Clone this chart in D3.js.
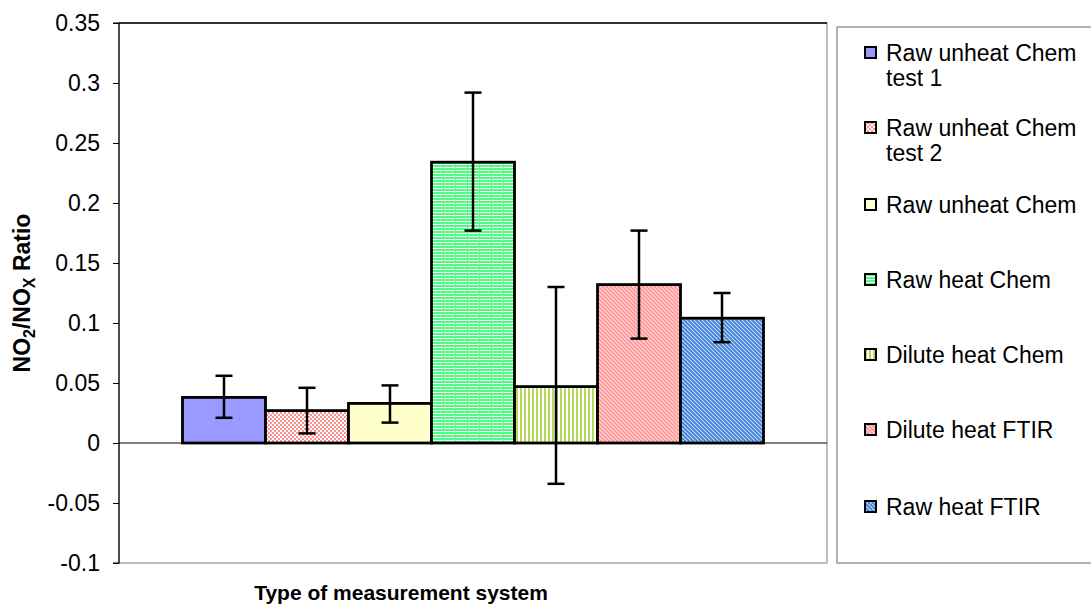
<!DOCTYPE html>
<html>
<head>
<meta charset="utf-8">
<script src="https://cdn.jsdelivr.net/npm/d3@7"></script>
<style>
  html, body { margin: 0; padding: 0; background: #fff; }
  svg { display: block; font-family: Arial, "Liberation Sans", sans-serif; }
</style>
</head>
<body>
<svg id="chart" width="1091" height="610"></svg>
<script>
// ---- data ----
const seriesNames = ["Raw unheat Chem test 1", "Raw unheat Chem test 2", "Raw unheat Chem",
  "Raw heat Chem", "Dilute heat Chem", "Dilute heat FTIR", "Raw heat FTIR"];
const legendLines = [["Raw unheat Chem", "test 1"], ["Raw unheat Chem", "test 2"], ["Raw unheat Chem"],
  ["Raw heat Chem"], ["Dilute heat Chem"], ["Dilute heat FTIR"], ["Raw heat FTIR"]];
const values = [0.038, 0.027, 0.033, 0.234, 0.047, 0.132, 0.104];
const errLow = [0.021, 0.008, 0.017, 0.177, -0.034, 0.087, 0.084];
const errHigh = [0.056, 0.046, 0.048, 0.292, 0.130, 0.177, 0.125];
const yTicks = [-0.1, -0.05, 0, 0.05, 0.1, 0.15, 0.2, 0.25, 0.3, 0.35];
const fillIds = ["f0", "f1", "f2", "f3", "f4", "f5", "f6"];

const svg = d3.select("#chart");
const defs = svg.append("defs");

// patterns
function pat(id, w, h) {
  return defs.append("pattern").attr("id", id).attr("patternUnits", "userSpaceOnUse")
    .attr("width", w).attr("height", h);
}
pat("f0", 4, 4).append("rect").attr("width", 4).attr("height", 4).attr("fill", "#9999FF");
{
  const p = pat("f1", 4, 4);
  p.append("rect").attr("width", 4).attr("height", 4).attr("fill", "#fff");
  p.append("rect").attr("width", 2).attr("height", 2).attr("fill", "#FF9090");
  p.append("rect").attr("x", 2).attr("y", 2).attr("width", 2).attr("height", 2).attr("fill", "#FF9090");
}
pat("f2", 4, 4).append("rect").attr("width", 4).attr("height", 4).attr("fill", "#FFFFCC");
{
  const p = pat("f3", 12, 3);
  p.append("rect").attr("width", 12).attr("height", 3).attr("fill", "#fff");
  p.append("rect").attr("width", 12).attr("height", 2).attr("fill", "#4DFF80");
  p.append("rect").attr("x", 11).attr("width", 1).attr("height", 3).attr("fill", "#7be89a");
}
{
  const p = pat("f4", 4, 4);
  p.append("rect").attr("width", 4).attr("height", 4).attr("fill", "#fff");
  p.append("rect").attr("width", 2).attr("height", 4).attr("fill", "#B5D95A");
}
{
  const p = pat("f5", 4, 4);
  p.append("rect").attr("width", 4).attr("height", 4).attr("fill", "#FFD6D6");
  p.append("path").attr("d", "M-1,-1 L5,5 M-1,3 L1,5 M3,-1 L5,1").attr("stroke", "#FF8C8C").attr("stroke-width", 1.5);
}
{
  const p = pat("f6", 4, 4);
  p.append("rect").attr("width", 4).attr("height", 4).attr("fill", "#CFE0F8");
  p.append("path").attr("d", "M-1,-1 L5,5 M-1,3 L1,5 M3,-1 L5,1").attr("stroke", "#3C7FD8").attr("stroke-width", 1.8);
}

// layout
const plot = { left: 119, right: 827, top: 23, bottom: 563 };
const y = d3.scaleLinear().domain([-0.1, 0.35]).range([plot.bottom, plot.top]);
const x = d3.scaleBand().domain(seriesNames).range([plot.left, plot.right]).paddingInner(0).paddingOuter(0.765);

// plot border
svg.append("rect").attr("x", plot.left).attr("y", plot.top)
  .attr("width", plot.right - plot.left).attr("height", plot.bottom - plot.top)
  .attr("fill", "none").attr("stroke", "#808080").attr("stroke-width", 1);
svg.append("line").attr("x1", plot.left).attr("x2", plot.right).attr("y1", plot.top).attr("y2", plot.top)
  .attr("stroke", "#000").attr("stroke-width", 1.5);

// y axis
const yAxis = d3.axisLeft(y).tickValues(yTicks).tickSize(6).tickPadding(13)
  .tickFormat(d => d === 0 ? "0" : String(+d.toFixed(2)));
const ga = svg.append("g").attr("transform", `translate(${plot.left},0)`).call(yAxis);
ga.select(".domain").attr("stroke", "#000").attr("stroke-width", 1.2).attr("d", `M-6,${plot.top}H0V${plot.bottom}H-6`);
ga.selectAll(".tick line").attr("stroke", "#000");
ga.selectAll(".tick text").attr("font-size", 23).attr("font-family", "Arial, 'Liberation Sans', sans-serif").attr("fill", "#000");

// bars
svg.append("g").selectAll("rect").data(seriesNames).join("rect")
  .attr("x", d => x(d))
  .attr("y", (d, i) => y(values[i]))
  .attr("width", x.bandwidth())
  .attr("height", (d, i) => y(0) - y(values[i]))
  .attr("fill", (d, i) => `url(#${fillIds[i]})`)
  .attr("stroke", "#000").attr("stroke-width", 2.8);

// zero line
svg.append("line").attr("x1", plot.left).attr("x2", plot.right).attr("y1", y(0)).attr("y2", y(0))
  .attr("stroke", "#000").attr("stroke-width", 1);

// error bars
const eb = svg.append("g").attr("stroke", "#000").attr("stroke-width", 2.5);
seriesNames.forEach((d, i) => {
  const cx = x(d) + x.bandwidth() / 2;
  eb.append("line").attr("x1", cx).attr("x2", cx).attr("y1", y(errLow[i])).attr("y2", y(errHigh[i]));
  eb.append("line").attr("x1", cx - 8.5).attr("x2", cx + 8.5).attr("y1", y(errLow[i])).attr("y2", y(errLow[i]));
  eb.append("line").attr("x1", cx - 8.5).attr("x2", cx + 8.5).attr("y1", y(errHigh[i])).attr("y2", y(errHigh[i]));
});

// axis titles
svg.append("text").attr("x", 401).attr("y", 600).attr("text-anchor", "middle")
  .attr("font-size", 21).attr("font-weight", "bold").text("Type of measurement system");
const yt = svg.append("text").attr("transform", `translate(30,293) rotate(-90)`).attr("text-anchor", "middle")
  .attr("font-size", 23).attr("font-weight", "bold");
yt.append("tspan").text("NO");
yt.append("tspan").attr("font-size", 16).attr("dy", 5).text("2");
yt.append("tspan").attr("dy", -5).text("/NO");
yt.append("tspan").attr("font-size", 16).attr("dy", 5).text("X");
yt.append("tspan").attr("dy", -5).text(" Ratio");

// legend
svg.append("rect").attr("x", 837).attr("y", 27).attr("width", 260).attr("height", 536)
  .attr("fill", "#fff").attr("stroke", "#808080").attr("stroke-width", 1.2);
const legY = [53, 128, 205, 280, 355, 430, 507];
const lg = svg.append("g");
seriesNames.forEach((d, i) => {
  const g = lg.append("g").attr("transform", `translate(865,${legY[i]})`);
  g.append("rect").attr("x", 0).attr("y", -6).attr("width", 11).attr("height", 11)
    .attr("fill", `url(#${fillIds[i]})`).attr("stroke", "#000").attr("stroke-width", 2);
  const t = g.append("text").attr("x", 21).attr("y", 8).attr("font-size", 23);
  legendLines[i].forEach((ln, k) => {
    t.append("tspan").attr("x", 21).attr("dy", k === 0 ? 0 : 25).text(ln);
  });
});
</script>
</body>
</html>
